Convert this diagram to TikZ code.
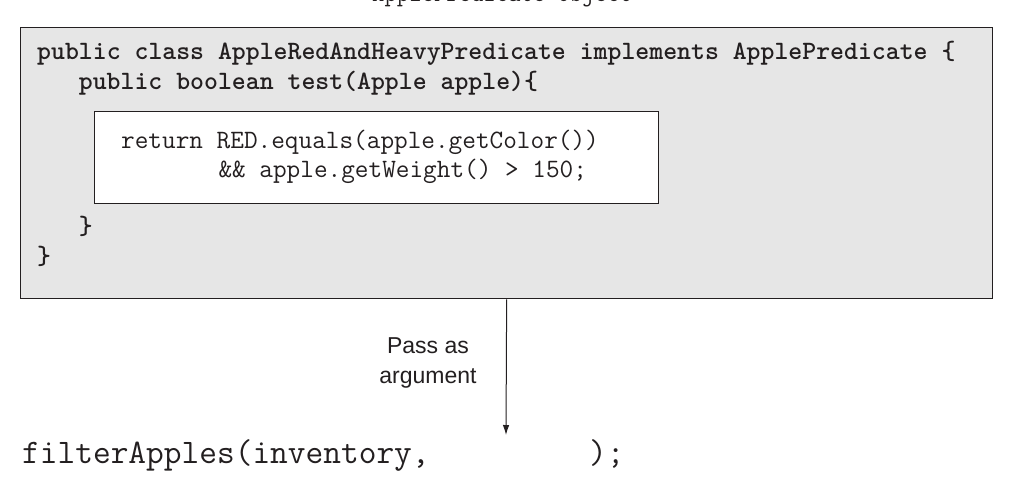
\documentclass[tikz,border=0pt]{standalone}
\usepackage{fontspec}
\setsansfont{Liberation Sans}
\usetikzlibrary{arrows.meta}
\definecolor{boxgray}{RGB}{230,230,230}
\definecolor{ink}{RGB}{35,31,32}
\begin{document}
\begin{tikzpicture}[x=1pt,y=-1pt,
  codebold/.style={anchor=base west,inner sep=0pt,text=ink,font=\ttfamily\bfseries\fontsize{26.5}{29}\selectfont},
  codeplain/.style={anchor=base west,inner sep=0pt,text=ink,font=\ttfamily\fontsize{26.5}{29}\selectfont},
  callcode/.style={anchor=base west,inner sep=0pt,text=ink,font=\ttfamily\fontsize{34.4}{36}\selectfont},
  topcap/.style={anchor=base west,inner sep=0pt,text=ink,font=\ttfamily\fontsize{24}{26}\selectfont},
  outerbox/.style={draw=ink,line width=1.3pt,fill=boxgray,anchor=north west,inner sep=0pt},
  innerbox/.style={draw=ink,line width=1pt,fill=white,anchor=north west,inner sep=0pt},
  label/.style={text=ink,align=center,inner sep=0pt,font=\sffamily\fontsize{23}{30}\selectfont},
  flow/.style={draw=ink,line width=1pt,-{Latex[length=10pt,width=6.5pt]}}
]
\useasboundingbox (0,0) rectangle (1022,498);
\clip (0,0) rectangle (1022,498);

\node[topcap] (caption) at (372,1) {ApplePredicate object};

\node[outerbox,minimum width=972pt,minimum height=271pt] (outer) at (20,27) {};
\node[innerbox,minimum width=564pt,minimum height=92pt] (inner) at (94,111) {};

\node[codebold] (l1) at (37,59.5) {public class AppleRedAndHeavyPredicate implements ApplePredicate \{};
\node[codebold] (l2) at (78.7,89) {public boolean test(Apple apple)\{};
\node[codeplain] (r1) at (121,148.5) {return RED.equals(apple.getColor())};
\node[codeplain] (r2) at (218.3,177) {\&\& apple.getWeight() > 150;};
\node[codebold] (l5) at (78.7,234.5) {\}};
\node[codebold] (l6) at (37,264.5) {\}};

\node[label] (pass) at (428,363) {Pass as\\argument};

\node[callcode] (call) at (22,463.5) {filterApples(inventory,\phantom{xxxxxxxxx});};

\coordinate (slot) at (506,435);
\draw[flow] (outer.south) -- (slot);
\end{tikzpicture}
\end{document}
